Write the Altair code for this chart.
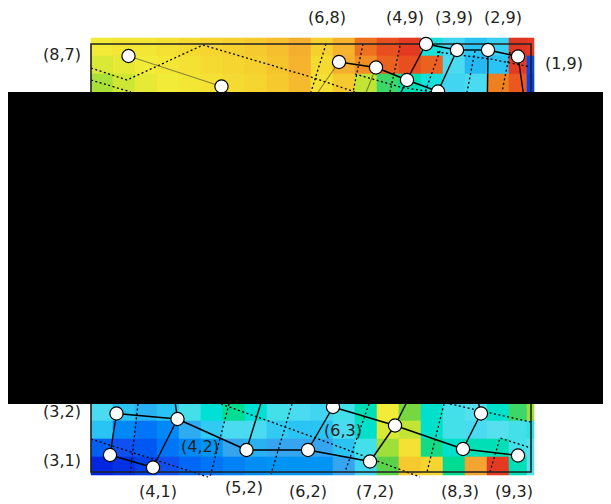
import altair as alt
import pandas as pd

# ---------------- colour field (jet-like scalar 0..1) -------------
heat_x_edges = [91, 113, 135, 157, 179, 201, 223, 245, 267, 289, 311, 333, 355,
                377, 399, 421, 443, 465, 487, 509, 527, 534]
heat_top_y_edges = [38, 56, 74, 92]
heat_bot_y_edges = [403, 421, 439, 457, 475]

heat_top_r0 = [.62, .63, .63, .64, .65, .66, .67, .68, .70, .73, .67, .72, .82, .86, .88, .38, .33, .30, .32, .90, .88]
heat_top_r1 = [.60, .61, .62, .63, .64, .65, .66, .67, .69, .72, .65, .73, .78, .84, .86, .84, .34, .28, .30, .88, .10]
heat_top_r2 = [.56, .59, .61, .62, .63, .64, .65, .66, .68, .71, .64, .68, .58, .48, .42, .38, .33, .34, .80, .85, .08]

heat_bot_r0 = [.34, .30, .27, .30, .36, .39, .45, .39, .36, .34, .33, .36, .42, .62, .52, .40, .36, .35, .40, .48, .55]
heat_bot_r1 = [.30, .20, .17, .20, .26, .31, .34, .34, .31, .30, .30, .34, .40, .60, .58, .40, .36, .34, .35, .36, .37]
heat_bot_r2 = [.14, .12, .13, .17, .20, .22, .25, .27, .25, .25, .25, .30, .36, .55, .64, .46, .40, .42, .42, .36, .35]
heat_bot_r3 = [.03, .05, .08, .12, .15, .17, .19, .21, .22, .22, .22, .25, .33, .50, .68, .66, .45, .75, .88, .42, .35]

jet_domain = [0, 0.12, 0.25, 0.35, 0.5, 0.62, 0.75, 0.88, 1]
jet_range = ["#0010d8", "#1050f0", "#35a5f0", "#55e0ef", "#5ad24a",
             "#f2ec38", "#f3a431", "#e53a22", "#c02020"]

# ---------------- mesh nodes --------------------------------------------------------------
node_id = ["A0", "A1", "A2", "A3", "A4", "A5", "A6", "A7", "A8", "A9",
           "H1", "H2", "H3", "H4", "H5", "H6", "H7", "H8",
           "B0", "B1", "B2", "B3", "B4", "B5", "B6", "B7", "B8", "B9", "B10", "B11",
           "G1", "G2", "G3", "G4", "G5"]
node_x = [128.5, 221.5, 339, 376, 407, 426, 457, 488, 518, 438,
          195, 255, 300, 355, 390, 487, 528, 430,
          116.5, 177.5, 110, 153, 246.5, 308, 333, 395, 370, 481, 463, 518,
          172, 268, 320, 418, 473]
node_y = [56, 86.5, 62, 67.5, 80, 44, 50, 50, 56.5, 91.5,
          120, 120, 118, 120, 115, 125, 125, 125,
          413.5, 419, 455, 467.5, 450, 450, 407, 425.5, 461.5, 413.5, 449, 455.5,
          380, 380, 380, 380, 380]

strong_edges = [("A2", "A3"), ("A3", "A4"), ("A4", "A5"), ("A5", "A6"), ("A6", "A7"),
                ("A7", "A8"), ("A4", "A9"), ("A6", "A9"), ("A7", "H6"), ("A8", "H7"),
                ("A4", "H5"), ("A9", "H8"),
                ("B0", "B1"), ("B0", "B2"), ("B2", "B3"), ("B3", "B1"), ("B1", "B4"),
                ("B4", "B5"), ("B5", "B6"), ("B6", "B7"), ("B5", "B8"), ("B8", "B7"),
                ("B7", "B10"), ("B10", "B11"), ("B10", "B9"), ("B4", "G2"),
                ("B7", "G4"), ("B9", "G5"), ("B1", "G1"), ("B6", "G3")]
faint_edges = [("A0", "A1"), ("A1", "H1"), ("A1", "H2"), ("A2", "H3"), ("A3", "H4")]

# dotted dual grid polylines
dotted_lines = [
    [(91, 68), (127, 80), (203, 45), (311, 77), (355, 92)],
    [(91, 80), (131, 92)],
    [(326, 44), (311, 92)],
    [(363, 44), (353, 92)],
    [(400, 46), (390, 92)],
    [(440, 51), (425, 92)],
    [(475, 51), (467, 92)],
    [(510, 52), (502, 92)],
    [(437, 52), (490, 59), (531, 67)],
    [(355, 74), (400, 87), (432, 92)],
    [(91, 439), (208, 477)],
    [(138, 404), (130, 475)],
    [(229, 404), (210, 477)],
    [(292, 404), (271, 474)],
    [(221, 404), (313, 437), (420, 477)],
    [(369, 404), (345, 472)],
    [(444, 404), (427, 472)],
    [(450, 404), (531, 422)],
    [(490, 472), (500, 438), (531, 448)],
]

frame_x = [91, 531]
frame_y = [44, 472]

label_text = ["(6,8)", "(4,9)", "(3,9)", "(2,9)", "(8,7)", "(1,9)",
              "(3,2)", "(3,1)", "(4,1)", "(5,2)", "(6,2)", "(7,2)", "(8,3)", "(9,3)",
              "(4,2)", "(6,3)"]
label_x = [327, 405, 454, 503, 62, 564,
           62, 62, 158, 244, 308, 375, 460, 514,
           200, 343]
label_y = [18, 18, 18, 18, 55, 64,
           412, 461, 492, 488, 492, 492, 492, 492,
           447, 431]

# ---------------- build tables -------------------------------------------------------------
cells = []
for y_edges, grid in ((heat_top_y_edges, [heat_top_r0, heat_top_r1, heat_top_r2]),
                      (heat_bot_y_edges, [heat_bot_r0, heat_bot_r1, heat_bot_r2, heat_bot_r3])):
    for r, vals in enumerate(grid):
        for c, v in enumerate(vals):
            cells.append(dict(x=heat_x_edges[c], x2=heat_x_edges[c + 1],
                              y=y_edges[r], y2=y_edges[r + 1], v=v))
heat_df = pd.DataFrame(cells)

pos = {n: (x, y) for n, x, y in zip(node_id, node_x, node_y)}
nodes_df = pd.DataFrame({"id": node_id, "x": node_x, "y": node_y})


def edge_df(edges):
    return pd.DataFrame([dict(x=pos[a][0], y=pos[a][1], x2=pos[b][0], y2=pos[b][1])
                         for a, b in edges])


dot_rows = []
for i, line in enumerate(dotted_lines):
    for k, (x, y) in enumerate(line):
        dot_rows.append(dict(pid=i, k=k, x=x, y=y))
dot_df = pd.DataFrame(dot_rows)

labels_df = pd.DataFrame({"t": label_text, "x": label_x, "y": label_y})
frame_df = pd.DataFrame({"x": [frame_x[0]], "x2": [frame_x[1]],
                         "y": [frame_y[0]], "y2": [frame_y[1]]})

XS = alt.Scale(domain=[8, 603], nice=False, zero=False)
YS = alt.Scale(domain=[8, 504], nice=False, zero=False, reverse=True)
jet = alt.Scale(domain=jet_domain, range=jet_range)

heat = alt.Chart(heat_df).mark_rect(strokeWidth=0.6).encode(
    x=alt.X("x:Q", scale=XS, axis=None), x2="x2:Q",
    y=alt.Y("y:Q", scale=YS, axis=None), y2="y2:Q",
    color=alt.Color("v:Q", scale=jet, legend=None),
    stroke=alt.Stroke("v:Q", scale=jet, legend=None),
)

frame = alt.Chart(frame_df).mark_rect(filled=False, stroke="#222", strokeWidth=1.6).encode(
    x=alt.X("x:Q", scale=XS, axis=None), x2="x2:Q",
    y=alt.Y("y:Q", scale=YS, axis=None), y2="y2:Q",
)

dotted = alt.Chart(dot_df).mark_line(color="black", strokeWidth=1.3, strokeDash=[2, 2.5]).encode(
    x=alt.X("x:Q", scale=XS, axis=None), y=alt.Y("y:Q", scale=YS, axis=None),
    detail="pid:N", order="k:Q",
)

faint = alt.Chart(edge_df(faint_edges)).mark_rule(color="#333", opacity=0.55, strokeWidth=1.1).encode(
    x=alt.X("x:Q", scale=XS, axis=None), x2="x2:Q",
    y=alt.Y("y:Q", scale=YS, axis=None), y2="y2:Q",
)

strong = alt.Chart(edge_df(strong_edges)).mark_rule(color="black", strokeWidth=1.4).encode(
    x=alt.X("x:Q", scale=XS, axis=None), x2="x2:Q",
    y=alt.Y("y:Q", scale=YS, axis=None), y2="y2:Q",
)

nodes = alt.Chart(nodes_df).mark_circle(size=175, color="white", opacity=1,
                                        stroke="black", strokeWidth=1.2).encode(
    x=alt.X("x:Q", scale=XS, axis=None), y=alt.Y("y:Q", scale=YS, axis=None),
)

labels = alt.Chart(labels_df).mark_text(font="DejaVu Sans", fontSize=16, color="#222").encode(
    x=alt.X("x:Q", scale=XS, axis=None), y=alt.Y("y:Q", scale=YS, axis=None), text="t:N",
)

mask = alt.Chart(pd.DataFrame({"d": [0]})).mark_rect(color="black").encode(
    x=alt.value(0), x2=alt.value(595), y=alt.value(84), y2=alt.value(396),
)

chart = alt.layer(heat, dotted, faint, strong, frame, nodes, labels, mask).properties(
    width=595, height=496, padding=0,
    autosize=alt.AutoSizeParams(type="none"),
).configure_view(stroke="transparent")

chart.save("out.html", embed_options={"renderer": "svg", "actions": False})
